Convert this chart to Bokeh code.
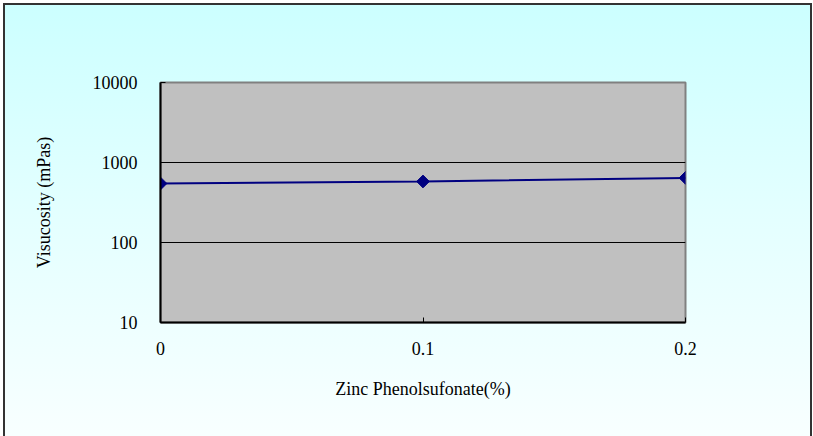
import math
from bokeh.plotting import figure
from bokeh.models import FixedTicker, ColumnDataSource
from bokeh.embed import file_html
from bokeh.resources import INLINE

# Data
zinc_pct = [0.0, 0.1, 0.2]
viscosity = [546, 579, 642]
x_ticks = [0.0, 0.1, 0.2]
x_tick_labels = ["0", "0.1", "0.2"]
y_ticks = [10, 100, 1000, 10000]
y_tick_labels = ["10", "100", "1000", "10000"]

src = ColumnDataSource(dict(x=zinc_pct, y=viscosity))

W, H = 813, 436
p = figure(width=W, height=H, output_backend="svg", toolbar_location=None,
           y_axis_type="log", x_range=(0, 0.2), y_range=(10, 10000),
           min_border_left=160, min_border_right=128,
           min_border_top=82, min_border_bottom=114,
           x_axis_label="Zinc Phenolsufonate(%)",
           y_axis_label="Visucosity (mPas)")

line = "linear-gradient(#333333, #333333)"
p.styles = {
    "background": ", ".join([
        f"{line} 3px 3px / 2px calc(100% - 3px) no-repeat",
        f"{line} 3px 3px / calc(100% - 4px) 2px no-repeat",
        f"{line} 810px 3px / 2px calc(100% - 3px) no-repeat",
        "linear-gradient(to bottom, #ccffff 0%, #e4ffff 50%, #f8ffff 100%) 5px 5px / 805px 431px no-repeat",
        "#ffffff",
    ]),
}
p.border_fill_alpha = 0
p.background_fill_color = "#c0c0c0"
p.outline_line_color = "#808080"
p.outline_line_width = 2

p.line("x", "y", source=src, line_color="#000080", line_width=2)
p.scatter("x", "y", source=src, marker="square", size=9, angle=math.pi / 4,
          fill_color="#000080", line_color="#000080")

p.xgrid.visible = False
p.ygrid.grid_line_color = "black"
p.ygrid.grid_line_width = 1
p.ygrid.ticker = FixedTicker(ticks=y_ticks)

for ax in (p.xaxis[0], p.yaxis[0]):
    ax.axis_line_color = "black"
    ax.axis_line_width = 2
    ax.major_tick_out = 0
    ax.major_tick_in = 5
    ax.minor_tick_out = 0
    ax.minor_tick_in = 0
    ax.major_label_text_font = "Liberation Serif"
    ax.major_label_text_font_size = "18px"
    ax.major_label_text_color = "black"
    ax.axis_label_text_font = "Liberation Serif"
    ax.axis_label_text_font_size = "18px"
    ax.axis_label_text_font_style = "normal"
    ax.axis_label_text_color = "black"

p.xaxis[0].ticker = FixedTicker(ticks=x_ticks)
p.xaxis[0].major_label_overrides = dict(zip(x_ticks, x_tick_labels))
p.xaxis[0].major_label_standoff = 19
p.xaxis[0].axis_label_standoff = 21

p.yaxis[0].ticker = FixedTicker(ticks=y_ticks)
p.yaxis[0].major_label_overrides = dict(zip(y_ticks, y_tick_labels))
p.yaxis[0].major_label_standoff = 23
p.yaxis[0].axis_label_standoff = 36

open("out.html", "w").write(file_html(p, INLINE))
